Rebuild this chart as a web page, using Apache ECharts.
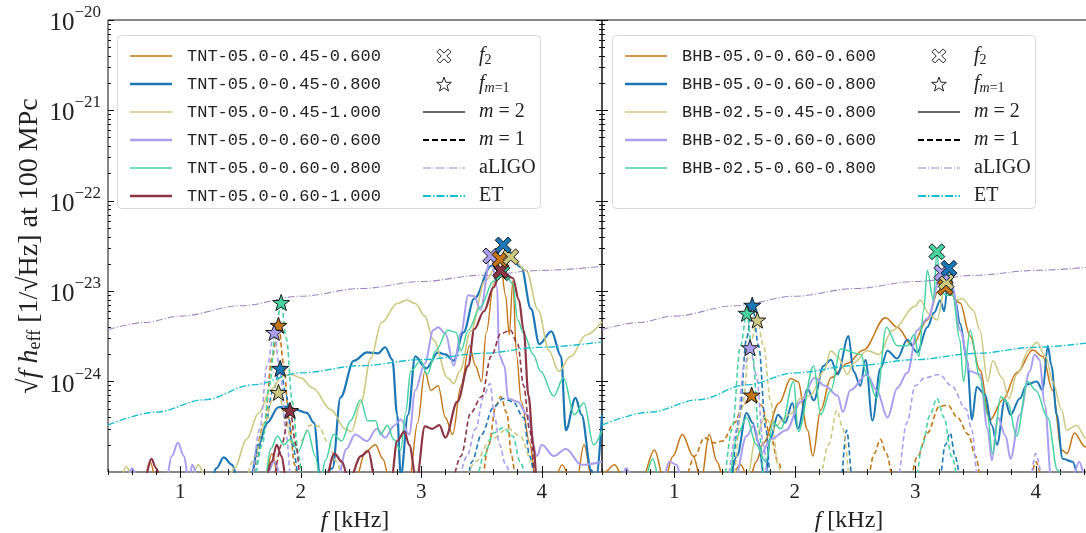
<!DOCTYPE html>
<html><head><meta charset="utf-8">
<script src="https://cdn.jsdelivr.net/npm/echarts@6/dist/echarts.min.js"></script>
<style>html,body{margin:0;padding:0;background:#fff}#c{width:1086px;height:533px}</style>
</head><body><div id="c"></div><script>
// ---------- axis ticks ----------
const xMajorTicks = [1, 2, 3, 4];
const yDecades = [1e-25, 1e-24, 1e-23, 1e-22, 1e-21, 1e-20];
const yMinorMult = [2, 3, 4, 5, 6, 7, 8, 9];

// ---------- detector curves ----------
const aLIGO = [[0.4,3.75e-24],[0.7,4.5e-24],[1.0,5.3e-24],[1.5,6.9e-24],[2.0,8.8e-24],[2.5,1.07e-23],[3.0,1.28e-23],[3.5,1.5e-23],[4.0,1.7e-23],[4.5,1.88e-23]];
const ET = [[0.4,3.3e-25],[0.8,4.6e-25],[1.2,6.3e-25],[1.6,9.2e-25],[2.0,1.25e-24],[2.5,1.5e-24],[3.0,1.75e-24],[3.5,2.05e-24],[4.0,2.4e-24],[4.5,2.75e-24]];

// ---------- left panel: TNT, m=2 (solid) ----------
const L1_m2 = [[0.4,8e-26],[0.7,8e-26],[0.75,1.3e-25],[0.8,8e-26],[1.7,8e-26],[1.76,1.6e-25],[1.82,8e-26],[2.45,8e-26],[2.54,1.7e-25],[2.62,2e-25],[2.68,1.4e-25],[2.74,8e-26],[2.9,8e-26],[2.97,3.5e-25],[3.03,1.3e-24],[3.08,8e-25],[3.14,9e-25],[3.2,4e-25],[3.26,2.6e-25],[3.33,9e-25],[3.4,2.5e-24],[3.45,1.5e-24],[3.5,1e-24],[3.54,3.5e-24],[3.6,1.2e-23],[3.654,2.25e-23],[3.7,9e-24],[3.73,3.3e-24],[3.76,1.3e-23],[3.79,2e-24],[3.83,6e-25],[3.9,2.1e-25],[3.95,8e-26],[4.1,8e-26],[4.17,1.2e-25],[4.24,8e-26],[4.29,8e-26],[4.35,2e-25],[4.42,8e-26],[4.5,8e-26]];
const L2_m2 = [[0.4,8e-26],[1.25,8e-26],[1.3,1.1e-25],[1.36,1.45e-25],[1.43,1.2e-25],[1.48,8e-26],[1.58,8e-26],[1.65,2e-25],[1.72,3.5e-25],[1.815,5.2e-25],[1.9,5.3e-25],[1.96,4.9e-25],[2.05,4.5e-25],[2.11,3.5e-25],[2.164,8e-26],[2.263,1.1e-25],[2.33,6.7e-25],[2.44,1.7e-24],[2.55,2.1e-24],[2.64,2.05e-24],[2.7,2.4e-24],[2.76,1.75e-24],[2.8,4.3e-25],[2.83,9e-26],[2.89,4.3e-25],[2.95,1.9e-24],[3.04,1.4e-24],[3.14,2.1e-24],[3.2,2.0e-24],[3.27,1.7e-24],[3.35,3.5e-24],[3.44,8.3e-24],[3.58,1.9e-23],[3.68,3.24e-23],[3.83,1.85e-23],[3.91,6.4e-24],[3.98,2.6e-24],[4.08,3.6e-24],[4.16,1.9e-24],[4.2,2.9e-25],[4.28,6.6e-25],[4.33,4.3e-25],[4.41,1.05e-25],[4.45,8e-26],[4.5,4.3e-25]];
const L3_m2 = [[0.4,8e-26],[0.5,8e-26],[0.55,1.15e-25],[0.62,8e-26],[1.08,8e-26],[1.15,1.2e-25],[1.22,8e-26],[1.38,8e-26],[1.45,1.1e-25],[1.55,2.3e-25],[1.65,4.5e-25],[1.75,8.1e-25],[1.85,1.15e-24],[1.92,1.2e-24],[2.0,1.1e-24],[2.1,8.5e-25],[2.25,4.9e-25],[2.37,3.0e-25],[2.42,2.8e-25],[2.5,5.9e-25],[2.58,1.8e-24],[2.67,4.5e-24],[2.8,7.3e-24],[2.88,8.0e-24],[2.95,7.3e-24],[3.03,5.3e-24],[3.1,2.9e-24],[3.22,1.1e-24],[3.27,9.5e-25],[3.32,1.3e-24],[3.41,3.6e-24],[3.53,1.3e-23],[3.66,2.3e-23],[3.743,2.4e-23],[3.87,1.7e-23],[3.97,6.2e-24],[4.06,2.2e-24],[4.14,1.3e-24],[4.24,1.9e-24],[4.37,3.3e-24],[4.5,4.6e-24]];
const L4_m2 = [[0.4,8e-26],[0.55,8e-26],[0.6,1.1e-25],[0.65,8e-26],[0.88,8e-26],[0.93,1.5e-25],[0.98,2.1e-25],[1.03,1.5e-25],[1.07,8e-26],[1.1,1.2e-25],[1.15,8e-26],[1.7,8e-26],[1.78,1.3e-25],[1.85,8e-26],[2.3,8e-26],[2.38,1.8e-25],[2.45,2.6e-25],[2.55,2.2e-25],[2.63,3.0e-25],[2.7,2.4e-25],[2.78,3.3e-25],[2.83,3.8e-25],[2.9,2.6e-25],[2.95,8e-25],[3.03,1.6e-24],[3.1,3.7e-24],[3.14,4.0e-24],[3.2,3.4e-24],[3.27,1.5e-24],[3.33,3.5e-24],[3.39,9e-24],[3.44,8.8e-24],[3.49,6.2e-24],[3.577,2.45e-23],[3.63,1.1e-23],[3.645,2.0e-24],[3.69,1.5e-24],[3.72,6.5e-25],[3.8,6e-25],[3.88,4.3e-25],[3.96,1.5e-25],[4.0,2e-25],[4.1,1.5e-25],[4.2,1.8e-25],[4.33,1.2e-25],[4.5,1.3e-25]];
const L5_m2 = [[0.4,8e-26],[1.7,8e-26],[1.75,1.8e-25],[1.806,2.5e-25],[1.86,2.0e-25],[1.914,2.3e-25],[1.98,1.7e-25],[2.056,2.9e-25],[2.12,1.5e-25],[2.164,8e-26],[2.205,1.35e-25],[2.272,2.6e-25],[2.34,2.2e-25],[2.413,3.7e-25],[2.496,6.3e-25],[2.554,3.7e-25],[2.621,3.7e-25],[2.66,2.6e-25],[2.72,3.3e-25],[2.77,2.3e-25],[2.829,1.75e-25],[2.87,4.5e-25],[2.912,1.3e-24],[2.995,1.7e-24],[3.05,1.2e-24],[3.12,2.2e-24],[3.22,3.7e-24],[3.29,3.5e-24],[3.33,2.2e-24],[3.39,3.7e-24],[3.49,6.7e-24],[3.6,1.3e-23],[3.67,1.6e-23],[3.72,1.38e-23],[3.76,1.2e-23],[3.8,4.8e-24],[3.85,3.4e-24],[3.93,2.0e-24],[3.99,1.3e-24],[4.1,6.9e-25],[4.18,1.1e-24],[4.27,4.3e-25],[4.35,5.8e-25],[4.43,2.0e-25],[4.5,2.9e-25]];
const L6_m2 = [[0.4,8e-26],[0.7,8e-26],[0.76,1.4e-25],[0.8,1.1e-25],[0.84,8e-26],[1.7,8e-26],[1.76,1.3e-25],[1.8,2e-25],[1.84,1.5e-25],[1.88,8e-26],[2.2,8e-26],[2.28,1.6e-25],[2.34,1.3e-25],[2.4,8e-26],[2.5,1.5e-25],[2.56,1.7e-25],[2.62,8e-26],[2.75,8e-26],[2.8,2.2e-25],[2.86,2.8e-25],[2.9,2e-25],[2.96,8e-26],[3.03,3.2e-25],[3.09,3e-25],[3.15,3.3e-25],[3.2,2.4e-25],[3.3,6e-25],[3.39,1.5e-24],[3.44,3.8e-24],[3.52,6e-24],[3.6,1.1e-23],[3.66,1.69e-23],[3.76,1.4e-23],[3.81,8e-24],[3.85,3.7e-24],[3.89,7e-25],[3.93,2e-25],[3.96,8e-26],[4.5,8e-26]];

// ---------- left panel: TNT, m=1 (dashed) ----------
const L1_m1 = [[1.6,8e-26],[1.7,3.5e-25],[1.76,1.8e-24],[1.815,4.2e-24],[1.86,1.5e-24],[1.9,4e-25],[1.95,1.2e-25],[1.98,8e-26],[3.5,8e-26],[3.56,2e-25],[3.62,5.5e-25],[3.66,6.8e-25],[3.71,4.5e-25],[3.75,1.5e-25],[3.78,8e-26]];
const L2_m1 = [[1.62,8e-26],[1.7,3e-25],[1.77,8e-25],[1.829,1.4e-24],[1.88,7e-25],[1.93,2e-25],[1.99,8e-26],[3.38,8e-26],[3.42,1.3e-25],[3.5,2.6e-25],[3.6,5.2e-25],[3.68,6.5e-25],[3.76,6e-25],[3.85,4e-25],[3.9,1.5e-25],[3.94,8e-26]];
const L3_m1 = [[1.55,8e-26],[1.62,1.5e-25],[1.7,3.5e-25],[1.77,6.5e-25],[1.815,7.6e-25],[1.87,4e-25],[1.93,2e-25],[2.0,2.2e-25],[2.08,3.3e-25],[2.15,3.2e-25],[2.22,2.2e-25],[2.3,1.3e-25],[2.35,8e-26],[3.35,8e-26],[3.45,1.3e-25],[3.58,2.3e-25],[3.72,3e-25],[3.82,2.5e-25],[3.92,1.3e-25],[3.98,8e-26]];
const L4_m1 = [[1.6,8e-26],[1.66,3e-25],[1.72,1.5e-24],[1.779,3.5e-24],[1.83,1.2e-24],[1.88,2.5e-25],[1.92,8e-26],[3.3,8e-26],[3.38,1.5e-25],[3.45,3e-25],[3.52,7e-25],[3.57,9.5e-25],[3.61,4e-25],[3.65,2e-25],[3.7,1.2e-25],[3.75,8e-26]];
const L5_m1 = [[1.62,8e-26],[1.68,2e-25],[1.74,9e-25],[1.79,3.5e-24],[1.837,7.5e-24],[1.88,3e-24],[1.93,6e-25],[1.98,1.5e-25],[2.02,8e-26],[3.45,8e-26],[3.52,1.5e-25],[3.6,2.7e-25],[3.68,3.1e-25],[3.76,2.5e-25],[3.82,1.3e-25],[3.87,8e-26]];
const L6_m1 = [[1.78,8e-26],[1.84,2e-25],[1.91,4.8e-25],[1.96,2e-25],[2.0,8e-26],[3.25,8e-26],[3.33,1.5e-25],[3.41,4.5e-25],[3.5,6.8e-25],[3.58,1.9e-24],[3.66,3.4e-24],[3.74,3.7e-24],[3.8,2.6e-24],[3.85,9e-25],[3.9,2.9e-25],[3.94,8e-26]];

// ---------- right panel: BHB, m=2 (solid) ----------
const R1_m2 = [[0.4,9e-26],[0.421,1.0e-25],[0.504,1.2e-25],[0.587,8e-26],[0.727,8e-26],[0.835,1.75e-25],[0.917,8e-26],[0.99,1.5e-25],[1.066,2.6e-25],[1.157,1.5e-25],[1.223,8e-26],[1.289,2.6e-25],[1.355,1.3e-25],[1.413,8e-26],[1.45,8e-26],[1.55,1.2e-25],[1.62,8e-26],[1.68,1.3e-25],[1.74,2.1e-25],[1.87,5.8e-25],[1.967,1.08e-24],[2.025,1.0e-24],[2.107,2.9e-25],[2.149,1.5e-25],[2.215,4.85e-25],[2.3,1.1e-24],[2.438,1.6e-24],[2.57,2.24e-24],[2.752,5.1e-24],[2.851,4.0e-24],[2.975,2.5e-24],[3.1,4.8e-24],[3.19,1.0e-23],[3.248,1.1e-23],[3.372,7.4e-24],[3.455,3.2e-24],[3.537,1.34e-24],[3.62,3.76e-25],[3.727,6.3e-25],[3.843,1.25e-24],[3.975,2.24e-24],[4.058,1.9e-24],[4.14,8e-25],[4.215,1.75e-25],[4.26,1.6e-25],[4.32,2.7e-25],[4.41,1.9e-25],[4.5,1.2e-25]];
const R2_m2 = [[0.4,8e-26],[1.3,8e-26],[1.45,8e-26],[1.52,1.5e-25],[1.6,4.5e-25],[1.65,3.5e-25],[1.7,2.1e-25],[1.75,8e-26],[1.8,2.4e-25],[1.86,4.3e-25],[1.92,3.5e-25],[1.98,5.8e-25],[2.025,3.0e-25],[2.107,8.3e-25],[2.157,6.2e-25],[2.24,1.5e-24],[2.3,1.75e-24],[2.355,1.2e-24],[2.446,3.2e-24],[2.487,1.3e-24],[2.545,9e-25],[2.587,1.75e-24],[2.645,3.7e-25],[2.711,1.4e-24],[2.769,2.2e-24],[2.85,1.8e-24],[2.934,2.9e-24],[3.017,2.1e-24],[3.1,4e-24],[3.157,5.8e-24],[3.207,7.9e-24],[3.24,6e-24],[3.28,1.79e-23],[3.33,8e-24],[3.372,4.4e-24],[3.43,1.7e-24],[3.47,3.8e-25],[3.51,8.7e-25],[3.578,7.2e-25],[3.636,3.3e-25],[3.678,2e-25],[3.744,6.3e-25],[3.79,4.3e-25],[3.868,6.5e-25],[3.926,9.3e-25],[4.008,1.0e-24],[4.058,8e-25],[4.1,2.5e-24],[4.13,1.5e-24],[4.174,4.3e-25],[4.223,1.4e-25],[4.306,1.3e-25],[4.364,8e-26],[4.5,8e-26]];
const R3_m2 = [[0.4,8e-26],[1.6,8e-26],[1.68,2.5e-25],[1.75,4e-25],[1.8,3.5e-25],[1.86,3.3e-25],[1.884,3.7e-25],[1.967,4.4e-25],[2.05,6.6e-25],[2.13,7e-25],[2.24,1.3e-24],[2.3,2.2e-24],[2.355,1.9e-24],[2.438,1.2e-24],[2.487,1.6e-24],[2.6,2.2e-24],[2.7,2.0e-24],[2.81,3.7e-24],[3.0,6.8e-24],[3.04,8e-24],[3.12,5.5e-24],[3.18,4.8e-24],[3.256,1.27e-23],[3.35,8e-24],[3.39,8.3e-24],[3.48,6.2e-24],[3.537,3.7e-24],[3.6,1.0e-24],[3.644,1.7e-24],[3.72,1.1e-24],[3.777,6.5e-25],[3.843,1.2e-24],[3.942,2.24e-24],[4.008,2.7e-24],[4.083,1.9e-24],[4.14,1.0e-24],[4.215,4.85e-25],[4.256,2.9e-25],[4.339,3.3e-25],[4.413,2.4e-25],[4.5,2e-25]];
const R4_m2 = [[0.4,8e-26],[0.55,8e-26],[0.6,1.1e-25],[0.66,8e-26],[0.9,8e-26],[0.96,1.3e-25],[1.02,1.2e-25],[1.06,8e-26],[1.5,8e-26],[1.6,2.5e-25],[1.66,3.3e-25],[1.72,1.6e-25],[1.8,2.3e-25],[1.93,2.9e-25],[2.05,6e-25],[2.165,1.1e-24],[2.25,9e-25],[2.355,7e-25],[2.4,4.6e-25],[2.46,8e-25],[2.6,1.2e-24],[2.68,8e-25],[2.77,4e-25],[2.851,8.5e-25],[2.934,1.25e-24],[3.017,3.7e-24],[3.1,5e-24],[3.22,1.6e-23],[3.31,1.1e-23],[3.372,3.7e-24],[3.455,1.3e-24],[3.537,1.2e-24],[3.6,3e-25],[3.636,1.35e-25],[3.685,4e-25],[3.75,2.5e-25],[3.79,1.4e-25],[3.868,4.3e-25],[3.95,1.3e-24],[3.99,2.0e-24],[4.03,1.75e-24],[4.075,5.5e-25],[4.13,8e-26],[4.3,8e-26],[4.36,1.3e-25],[4.42,8e-26],[4.5,8e-26]];
const R5_m2 = [[0.4,8e-26],[0.75,8e-26],[0.82,1.4e-25],[0.88,8e-26],[1.45,8e-26],[1.52,2.5e-25],[1.6,4e-25],[1.68,2e-25],[1.76,1.3e-25],[1.82,3.5e-25],[1.884,3.0e-25],[1.99,1.0e-24],[2.03,2.8e-25],[2.157,1.5e-24],[2.215,4.3e-25],[2.3,8e-25],[2.38,2.3e-24],[2.55,2.0e-24],[2.6,1.15e-24],[2.68,6.6e-25],[2.76,4e-24],[2.85,2.5e-24],[2.934,2.5e-24],[2.99,3.3e-24],[3.03,1.9e-24],[3.07,6.2e-24],[3.1,1.7e-23],[3.15,8e-24],[3.18,2.73e-23],[3.21,1.0e-23],[3.26,9e-24],[3.31,9e-24],[3.37,2.9e-24],[3.4,1.0e-24],[3.455,3.7e-24],[3.537,1.1e-24],[3.6,4.3e-25],[3.64,1.6e-25],[3.71,6.8e-25],[3.77,5.8e-25],[3.84,2.5e-25],[3.933,1.0e-24],[4.0,8e-25],[4.1,4e-25],[4.18,1.05e-25],[4.25,8e-26],[4.5,8e-26]];

// ---------- right panel: BHB, m=1 (dashed) ----------
const R1_m1 = [[1.1,8e-26],[1.17,1.5e-25],[1.25,2.4e-25],[1.33,2.1e-25],[1.4,2.2e-25],[1.5,3.5e-25],[1.57,5.5e-25],[1.642,7.1e-25],[1.72,5.5e-25],[1.8,2.5e-25],[1.86,1.3e-25],[1.92,8e-26],[2.6,8e-26],[2.66,1.6e-25],[2.71,2.3e-25],[2.76,1.6e-25],[2.82,8e-26],[2.95,8e-26],[3.02,1.5e-25],[3.1,2.7e-25],[3.2,5.3e-25],[3.27,5.5e-25],[3.35,4e-25],[3.44,2.6e-25],[3.5,1.5e-25],[3.55,8e-26],[3.95,8e-26],[4.0,1.3e-25],[4.05,8e-26]];
const R2_m1 = [[1.48,8e-26],[1.54,4e-25],[1.6,3e-24],[1.647,7e-24],[1.7,2.5e-24],[1.76,3e-25],[1.8,8e-26],[2.38,8e-26],[2.43,2.9e-25],[2.48,8e-26],[3.2,8e-26],[3.25,2e-25],[3.29,2.7e-25],[3.33,1.5e-25],[3.37,8e-26]];
const R3_m1 = [[1.5,8e-26],[1.56,5e-25],[1.63,2.6e-24],[1.689,4.8e-24],[1.74,2.5e-24],[1.8,6e-25],[1.86,1.2e-25],[1.9,8e-26],[2.2,8e-26],[2.28,2e-25],[2.35,4.8e-25],[2.4,3e-25],[2.45,8e-26]];
const R4_m1 = [[1.45,8e-26],[1.52,3e-25],[1.58,1.5e-24],[1.628,2.37e-24],[1.68,1.2e-24],[1.74,2e-25],[1.78,8e-26],[2.85,8e-26],[2.93,3.5e-25],[3.0,9e-25],[3.08,1.1e-24],[3.2,1.2e-24],[3.3,9e-25],[3.42,5e-25],[3.47,2.9e-25],[3.52,8e-26],[3.95,8e-26],[4.0,1.6e-25],[4.05,8e-26]];
const R5_m1 = [[1.42,8e-26],[1.48,3e-25],[1.55,2.5e-24],[1.601,5.7e-24],[1.65,2e-24],[1.7,3e-25],[1.75,8e-26],[3.0,8e-26],[3.06,2e-25],[3.12,4.2e-25],[3.18,6.5e-25],[3.24,4e-25],[3.3,1.5e-25],[3.35,8e-26]];

// ---------- characteristic frequency markers ----------
const L_f2  = [[3.654,2.25e-23],[3.68,3.24e-23],[3.743,2.4e-23],[3.577,2.45e-23],[3.67,1.6e-23],[3.66,1.69e-23]];
const L_fm1 = [[1.815,4.2e-24],[1.829,1.4e-24],[1.815,7.6e-25],[1.779,3.5e-24],[1.837,7.5e-24],[1.91,4.8e-25]];
const R_f2  = [[3.248,1.1e-23],[3.28,1.79e-23],[3.256,1.27e-23],[3.22,1.6e-23],[3.179,2.73e-23]];
const R_fm1 = [[1.642,7.1e-25],[1.647,7.0e-24],[1.689,4.8e-24],[1.628,2.37e-24],[1.601,5.7e-24]];

// ---------- names ----------
const leftNames = ['TNT-05.0-0.45-0.600','TNT-05.0-0.45-0.800','TNT-05.0-0.45-1.000','TNT-05.0-0.60-0.600','TNT-05.0-0.60-0.800','TNT-05.0-0.60-1.000'];
const rightNames = ['BHB-05.0-0.60-0.600','BHB-05.0-0.60-0.800','BHB-02.5-0.45-0.800','BHB-02.5-0.60-0.600','BHB-02.5-0.60-0.800'];

// ---------- styles ----------
const SERIF = "'Liberation Serif','DejaVu Serif',serif";
const MONO = "'Liberation Mono','DejaVu Sans Mono',monospace";
const C_O = '#c47516', C_B = '#1b77b5', C_K = '#cdc880', C_L = '#a99ef0', C_T = '#46d3a0', C_M = '#8d3545';
const C_LIGO = '#9c86c6', C_ET = '#17becf';
const leftColors = [C_O, C_B, C_K, C_L, C_T, C_M];
const leftWidths = [1.4, 2.2, 1.6, 2.0, 1.5, 2.2];
const rightColors = [C_O, C_B, C_K, C_L, C_T];
const rightWidths = [1.5, 2.0, 1.5, 2.0, 1.5];
const leftM2 = [L1_m2, L2_m2, L3_m2, L4_m2, L5_m2, L6_m2];
const leftM1 = [L1_m1, L2_m1, L3_m1, L4_m1, L5_m1, L6_m1];
const rightM2 = [R1_m2, R2_m2, R3_m2, R4_m2, R5_m2];
const rightM1 = [R1_m1, R2_m1, R3_m1, R4_m1, R5_m1];

const X_PATH = 'path://M20,0L50,30L80,0L100,20L70,50L100,80L80,100L50,70L20,100L0,80L30,50L0,20Z';
const STAR_PATH = 'path://M50,0L61.76,33.82L97.55,34.55L69.02,56.18L79.39,90.45L50,70L20.61,90.45L30.98,56.18L2.45,34.55L38.24,33.82Z';
const LINE_THIN = 'path://M0,0H42V1.5H0Z';
const LINE_THICK = 'path://M0,0H42V2.5H0Z';
const DASH_ICON = 'path://M0,0H6V2H0Z M9,0H15V2H9Z M18,0H24V2H18Z M27,0H33V2H27Z M36,0H42V2H36Z';
const DASHDOT_THIN = 'path://M0,0H8V1H0Z M10,0H11V1H10Z M13,0H21V1H13Z M23,0H24V1H23Z M26,0H34V1H26Z M36,0H37V1H36Z M39,0H42V1H39Z';
const DASHDOT_THICK = 'path://M0,0H8V2H0Z M10,0H11.5V2H10Z M13.5,0H21.5V2H13.5Z M23.5,0H25V2H23.5Z M27,0H35V2H27Z M37,0H38.5V2H37Z M40.5,0H42V2H40.5Z';

const yMinorTicks = [];
for (let i = 0; i < yDecades.length - 1; i++) for (const m of yMinorMult) yMinorTicks.push(m * yDecades[i]);

const grids = [
  {left: 108, top: 20, width: 494, height: 452, show: true, borderColor: '#111', borderWidth: 1, backgroundColor: 'transparent', containLabel: false, outerBoundsMode: 'none'},
  {left: 602, top: 20, width: 494, height: 452, show: true, borderColor: '#111', borderWidth: 1, backgroundColor: 'transparent', containLabel: false, outerBoundsMode: 'none'}
];

function xAxesFor(gi) {
  const base = {type: 'value', gridIndex: gi, min: 0.4, max: 4.5, axisLine: {show: false}, splitLine: {show: false}};
  const tickStyle = {color: '#111', width: 1};
  return [
    Object.assign({}, base, {position: 'bottom',
      axisTick: {show: true, inside: true, length: 6, customValues: xMajorTicks, lineStyle: tickStyle},
      axisLabel: {show: true, customValues: xMajorTicks, fontFamily: SERIF, fontSize: 21, color: '#222', margin: 10},
      name: '{i|f} [kHz]', nameLocation: 'middle', nameGap: 37, nameMoveOverlap: false,
      nameTextStyle: {fontFamily: SERIF, fontSize: 24, color: '#222', rich: {i: {fontFamily: SERIF, fontStyle: 'italic', fontSize: 24}}}}),
    Object.assign({}, base, {position: 'bottom', interval: 0.2,
      axisTick: {show: true, inside: true, length: 3, lineStyle: tickStyle}, axisLabel: {show: false}}),
    Object.assign({}, base, {position: 'top',
      axisTick: {show: true, inside: true, length: 6, customValues: xMajorTicks, lineStyle: tickStyle}, axisLabel: {show: false}}),
    Object.assign({}, base, {position: 'top', interval: 0.2,
      axisTick: {show: true, inside: true, length: 3, lineStyle: tickStyle}, axisLabel: {show: false}})
  ];
}
function yAxesFor(gi) {
  const base = {type: 'log', logBase: 10, gridIndex: gi, min: 1e-25, max: 1e-20, axisLine: {show: false}, splitLine: {show: false}};
  const tickStyle = {color: '#111', width: 1};
  const major = Object.assign({}, base, {position: 'left',
    axisTick: {show: true, inside: true, length: 6, lineStyle: tickStyle},
    axisLabel: {show: gi === 0, margin: 7, formatter: function (v) {
      const e = Math.round(Math.log10(v));
      return '{b|10}{s|' + (e < 0 ? '\u2212' : '') + Math.abs(e) + '}';
    }, rich: {
      b: {fontFamily: SERIF, fontSize: 25, color: '#222', lineHeight: 32, verticalAlign: 'bottom'},
      s: {fontFamily: SERIF, fontSize: 17, color: '#222', lineHeight: 17, verticalAlign: 'top'}
    }}});
  if (gi === 0) {
    Object.assign(major, {
      name: '\u221A{i|f} {i|h}{sub|eff} [1/\u221AHz] at 100 MPc', nameLocation: 'middle', nameGap: 64, nameRotate: 90,
      nameMoveOverlap: false, nameTruncate: {maxWidth: 1000},
      nameTextStyle: {fontFamily: SERIF, fontSize: 28, color: '#222', rich: {
        i: {fontFamily: SERIF, fontStyle: 'italic', fontSize: 28, color: '#222'},
        sub: {fontFamily: SERIF, fontSize: 18, color: '#222', lineHeight: 18, verticalAlign: 'bottom'}
      }}
    });
  }
  return [
    major,
    Object.assign({}, base, {position: 'left', axisTick: {show: true, inside: true, length: 3, customValues: yMinorTicks, lineStyle: tickStyle}, axisLabel: {show: false}}),
    Object.assign({}, base, {position: 'right', axisTick: {show: true, inside: true, length: 6, lineStyle: tickStyle}, axisLabel: {show: false}}),
    Object.assign({}, base, {position: 'right', axisTick: {show: true, inside: true, length: 3, customValues: yMinorTicks, lineStyle: tickStyle}, axisLabel: {show: false}})
  ];
}

function line(name, data, color, width, type, gi, z) {
  return {type: 'line', name: name, xAxisIndex: gi * 4, yAxisIndex: gi * 4, data: data, symbol: 'none', showSymbol: false,
    smooth: 0.35, smoothMonotone: 'x', clip: true, silent: true, z: z || 2,
    lineStyle: {color: color, width: width, type: type}, itemStyle: {color: color}, emphasis: {disabled: true}};
}
function markers(name, pts, colors, symbol, size, gi) {
  return {type: 'scatter', name: name, xAxisIndex: gi * 4, yAxisIndex: gi * 4, symbol: symbol, symbolSize: size, symbolKeepAspect: true,
    silent: true, z: 6, clip: false,
    itemStyle: {borderColor: '#1a1a1a', borderWidth: 1, opacity: 1},
    data: pts.map((p, i) => ({value: p, itemStyle: {color: colors[i]}}))};
}

const series = [];
[0, 1].forEach(gi => {
  series.push(line('aLIGO', aLIGO, C_LIGO, 1.1, [7, 2, 1.2, 2], gi, 3));
  series.push(line('ET', ET, C_ET, 1.4, [7, 2, 1.5, 2], gi, 3));
});
leftNames.forEach((n, i) => {
  series.push(line(n, leftM2[i], leftColors[i], leftWidths[i], 'solid', 0));
  series.push(line(n + ' (m=1)', leftM1[i], leftColors[i], 1.6, [5, 3], 0));
});
rightNames.forEach((n, i) => {
  series.push(line(n, rightM2[i], rightColors[i], rightWidths[i], 'solid', 1));
  series.push(line(n + ' (m=1)', rightM1[i], rightColors[i], 1.6, [5, 3], 1));
});
series.push(line('m = 2', [], '#333', 1.5, 'solid', 0));
series.push(line('m = 1', [], '#000', 2, [5, 3], 0));
series.push(markers('fm1', L_fm1, leftColors, STAR_PATH, 17, 0));
series.push(markers('f2', [L_f2[4], L_f2[5], L_f2[3], L_f2[0], L_f2[2], L_f2[1]], [C_T, C_M, C_L, C_O, C_K, C_B], X_PATH, 16, 0));
series.push(markers('fm1', R_fm1, rightColors, STAR_PATH, 17, 1));
series.push(markers('f2', [R_f2[0], R_f2[2], R_f2[3], R_f2[1], R_f2[4]], [C_O, C_K, C_L, C_B, C_T], X_PATH, 16, 1));

function simLegend(left, names, colors, widths) {
  return {orient: 'vertical', left: left, top: 40, itemWidth: 42, itemHeight: 3, itemGap: 6, selectedMode: false, z: 8,
    data: names.map((n, i) => ({name: n, icon: widths[i] > 1.8 ? LINE_THICK : LINE_THIN, itemStyle: {color: colors[i], borderWidth: 0}})),
    textStyle: {fontFamily: MONO, fontSize: 17, color: '#222', lineHeight: 22, padding: [0, 0, 0, 10]}};
}
function keyLegend(left) {
  const white = {color: '#fff', borderColor: '#222', borderWidth: 1};
  const labels = {'f2': '{i|f}{s|2}', 'fm1': '{i|f}{si|m}{s|=1}', 'm = 2': '{i|m} = 2', 'm = 1': '{i|m} = 1', 'aLIGO': 'aLIGO', 'ET': 'ET'};
  return {orient: 'vertical', left: left, top: 40, itemWidth: 42, itemHeight: 14, itemGap: 6, selectedMode: false, z: 8,
    data: [
      {name: 'f2', icon: X_PATH, itemStyle: white},
      {name: 'fm1', icon: STAR_PATH, itemStyle: white},
      {name: 'm = 2', icon: LINE_THIN, itemStyle: {color: '#333', borderWidth: 0}},
      {name: 'm = 1', icon: DASH_ICON, itemStyle: {color: '#000', borderWidth: 0}},
      {name: 'aLIGO', icon: DASHDOT_THIN, itemStyle: {color: C_LIGO, borderWidth: 0}},
      {name: 'ET', icon: DASHDOT_THICK, itemStyle: {color: C_ET, borderWidth: 0}}
    ],
    formatter: n => labels[n],
    textStyle: {fontFamily: SERIF, fontSize: 20, color: '#222', lineHeight: 22, padding: [0, 0, 0, 9], rich: {
      i: {fontFamily: SERIF, fontStyle: 'italic', fontSize: 20, color: '#222', lineHeight: 22},
      s: {fontFamily: SERIF, fontSize: 14, color: '#222', lineHeight: 14, verticalAlign: 'bottom'},
      si: {fontFamily: SERIF, fontStyle: 'italic', fontSize: 14, color: '#222', lineHeight: 14, verticalAlign: 'bottom'}
    }}};
}

const option = {
  animation: false,
  backgroundColor: '#fff',
  grid: grids,
  xAxis: xAxesFor(0).concat(xAxesFor(1)),
  yAxis: yAxesFor(0).concat(yAxesFor(1)),
  graphic: [
    {type: 'rect', z: 7, shape: {x: 117.5, y: 35.5, width: 423, height: 173, r: 4}, style: {fill: 'rgba(255,255,255,0.85)', stroke: '#d8d8d8', lineWidth: 1}},
    {type: 'rect', z: 7, shape: {x: 612.5, y: 35.5, width: 423, height: 173, r: 4}, style: {fill: 'rgba(255,255,255,0.85)', stroke: '#d8d8d8', lineWidth: 1}}
  ],
  legend: [
    simLegend(125, leftNames, leftColors, leftWidths),
    keyLegend(418),
    simLegend(620, rightNames, rightColors, rightWidths),
    keyLegend(913)
  ],
  series: series
};
const chart = echarts.init(document.getElementById('c'), null, {renderer: 'canvas'});
chart.setOption(option);
</script></body></html>
